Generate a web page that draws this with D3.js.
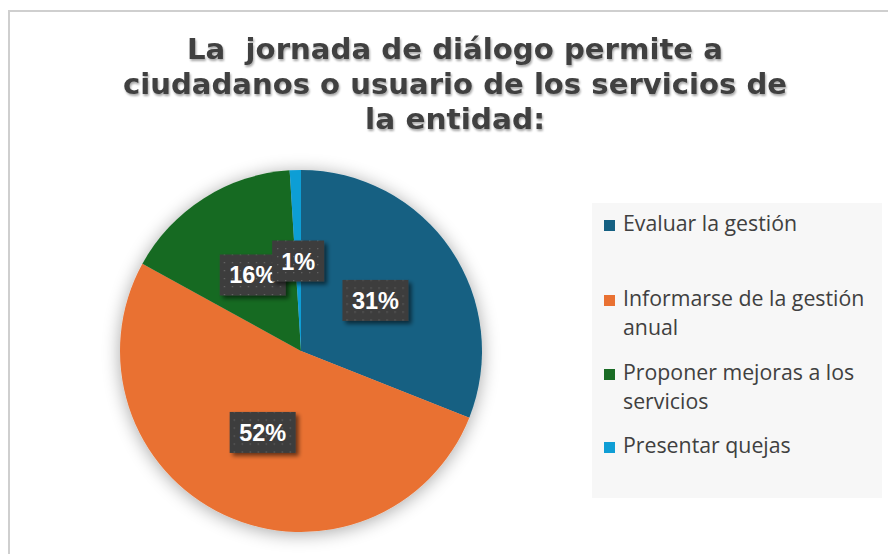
<!DOCTYPE html>
<html>
<head>
<meta charset="utf-8">
<script src="https://cdn.jsdelivr.net/npm/d3@7"></script>
<style>
  html, body { margin: 0; padding: 0; background: #fff; }
  svg { display: block; }
</style>
</head>
<body>
<svg id="chart" width="888" height="554"></svg>
<script>
// Data
const titleLines = [
  "La  jornada de diálogo permite a",
  "ciudadanos o usuario de los servicios de",
  "la entidad:"
];
const categories = [
  "Evaluar la gestión",
  "Informarse de la gestión anual",
  "Proponer mejoras a los servicios",
  "Presentar quejas"
];
const values = [31, 52, 16, 1];
const colors = ["#156082", "#E97132", "#196B24", "#0F9ED5"];
const legendLines = [
  ["Evaluar la gestión"],
  ["Informarse de la gestión", "anual"],
  ["Proponer mejoras a los", "servicios"],
  ["Presentar quejas"]
];

const svg = d3.select("#chart");
const defs = svg.append("defs");

// soft shadow behind the pie
const pieShadow = defs.append("filter").attr("id", "pieShadow")
  .attr("x", "-30%").attr("y", "-30%").attr("width", "160%").attr("height", "160%");
pieShadow.append("feGaussianBlur").attr("in", "SourceAlpha").attr("stdDeviation", 9).attr("result", "b");
pieShadow.append("feOffset").attr("in", "b").attr("dx", 0).attr("dy", 2).attr("result", "o");
pieShadow.append("feComponentTransfer").attr("in", "o").attr("result", "s")
  .append("feFuncA").attr("type", "linear").attr("slope", 0.35);
const m1 = pieShadow.append("feMerge");
m1.append("feMergeNode").attr("in", "s");
m1.append("feMergeNode").attr("in", "SourceGraphic");

// shadow for label boxes
const boxShadow = defs.append("filter").attr("id", "boxShadow")
  .attr("x", "-30%").attr("y", "-30%").attr("width", "170%").attr("height", "170%");
boxShadow.append("feGaussianBlur").attr("in", "SourceAlpha").attr("stdDeviation", 2).attr("result", "b");
boxShadow.append("feOffset").attr("in", "b").attr("dx", 3).attr("dy", 3).attr("result", "o");
boxShadow.append("feComponentTransfer").attr("in", "o").attr("result", "s")
  .append("feFuncA").attr("type", "linear").attr("slope", 0.55);
const m2 = boxShadow.append("feMerge");
m2.append("feMergeNode").attr("in", "s");
m2.append("feMergeNode").attr("in", "SourceGraphic");

// title text shadow
const textShadow = defs.append("filter").attr("id", "textShadow")
  .attr("x", "-5%").attr("y", "-20%").attr("width", "110%").attr("height", "150%");
textShadow.append("feGaussianBlur").attr("in", "SourceAlpha").attr("stdDeviation", 1).attr("result", "b");
textShadow.append("feOffset").attr("in", "b").attr("dx", 1).attr("dy", 2).attr("result", "o");
textShadow.append("feComponentTransfer").attr("in", "o").attr("result", "s")
  .append("feFuncA").attr("type", "linear").attr("slope", 0.35);
const m3 = textShadow.append("feMerge");
m3.append("feMergeNode").attr("in", "s");
m3.append("feMergeNode").attr("in", "SourceGraphic");

// dotted fill for label boxes
const pat = defs.append("pattern").attr("id", "dots")
  .attr("width", 8).attr("height", 8).attr("patternUnits", "userSpaceOnUse");
pat.append("rect").attr("width", 8).attr("height", 8).attr("fill", "#3d3d3d");
pat.append("rect").attr("x", 3).attr("y", 3).attr("width", 1.2).attr("height", 1.2).attr("fill", "#6a6a6a");

// chart frame
svg.append("path")
  .attr("d", "M9,560 L9,11 L900,11")
  .attr("fill", "none").attr("stroke", "#cfcfcf").attr("stroke-width", 2);

// title, each line stretched to its set width
const titleWidths = [536, 664, 180];
const title = svg.append("g")
  .attr("filter", "url(#textShadow)");
titleLines.forEach((t, i) => {
  title.append("text")
    .attr("x", 455 - titleWidths[i] / 2)
    .attr("y", 59 + i * 35)
    .attr("font-family", "'DejaVu Sans', Verdana, sans-serif")
    .attr("font-weight", "bold")
    .attr("font-size", 27.5)
    .attr("fill", "#404040")
    .attr("textLength", titleWidths[i])
    .attr("lengthAdjust", "spacingAndGlyphs")
    .style("white-space", "pre")
    .text(t);
});

// pie
const cx = 301, cy = 351, R = 181;
const pie = d3.pie().sort(null).value(d => d)(values);
const arc = d3.arc().innerRadius(0).outerRadius(R);
const labelArc = d3.arc().innerRadius(90).outerRadius(90);

const g = svg.append("g").attr("transform", `translate(${cx},${cy})`);
const slices = g.append("g").attr("filter", "url(#pieShadow)");
slices.selectAll("path").data(pie).join("path")
  .attr("d", arc)
  .attr("fill", (d, i) => colors[i]);

// data labels
const labels = g.selectAll("g.lbl").data(pie).join("g")
  .attr("class", "lbl")
  .attr("transform", d => {
    const [x, y] = labelArc.centroid(d);
    return `translate(${x},${y})`;
  });
labels.each(function(d) {
  const sel = d3.select(this);
  const txt = d.data + "%";
  const w = txt.length === 2 ? 52 : 66;
  const h = 41;
  sel.append("rect")
    .attr("x", -w / 2).attr("y", -h / 2).attr("width", w).attr("height", h)
    .attr("fill", "url(#dots)")
    .attr("filter", "url(#boxShadow)");
  sel.append("text")
    .attr("text-anchor", "middle")
    .attr("dy", "0.36em")
    .attr("font-family", "'Liberation Sans', Arial, sans-serif")
    .attr("font-weight", "bold")
    .attr("font-size", 23.5)
    .attr("fill", "#ffffff")
    .text(txt);
});

// legend
const lg = svg.append("g");
lg.append("rect")
  .attr("x", 592).attr("y", 203).attr("width", 290).attr("height", 295)
  .attr("fill", "#f7f7f7");
const legendBase = [231, 306, 380, 453];
legendLines.forEach((lines, i) => {
  lg.append("rect")
    .attr("x", 604).attr("y", legendBase[i] - 11).attr("width", 11).attr("height", 11)
    .attr("fill", colors[i]);
  const t = lg.append("text")
    .attr("font-family", "'Open Sans', Lato, sans-serif")
    .attr("font-size", 21.3)
    .attr("fill", "#404040");
  lines.forEach((s, j) => {
    t.append("tspan")
      .attr("x", 623)
      .attr("y", legendBase[i] + j * 29)
      .text(s);
  });
});
</script>
</body>
</html>
